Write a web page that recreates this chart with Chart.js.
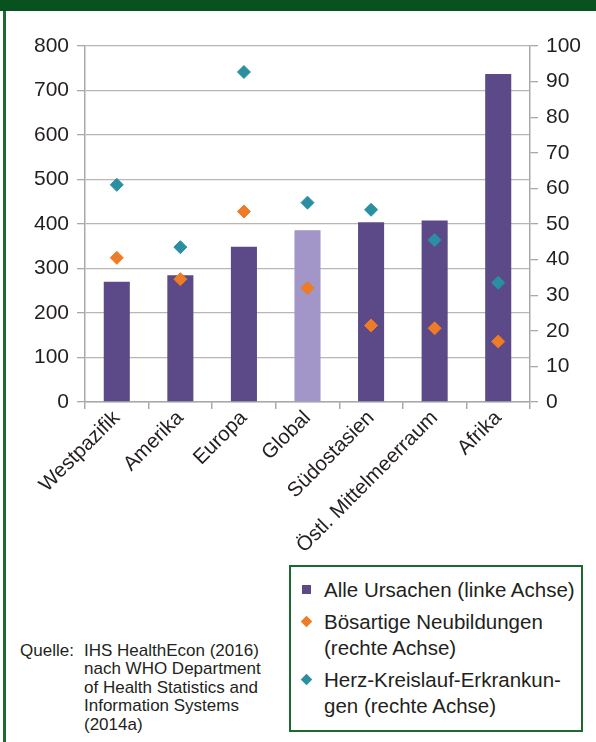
<!DOCTYPE html>
<html lang="de">
<head>
<meta charset="utf-8">
<title>Sterblichkeit nach Regionen</title>
<script src="https://cdn.jsdelivr.net/npm/chart.js@4.4.1/dist/chart.umd.min.js"></script>
<style>
    html, body {
        margin: 0;
        padding: 0;
        background: #ffffff;
        width: 596px;
        height: 742px;
        overflow: hidden;
        font-family: "Liberation Sans", Arial, sans-serif;
        color: #231f20;
    }
    .topbar {
        position: absolute;
        left: 0; top: 0;
        width: 596px; height: 11px;
        background: #08521f;
    }
    .leftbar {
        position: absolute;
        left: 3px; top: 11px;
        width: 3px; height: 731px;
        background: #1d6a31;
    }
    #chartBox {
        position: absolute;
        left: 6px; top: 11px;
        width: 590px; height: 550px;
    }
    .legend {
        position: absolute;
        left: 289px; top: 565px;
        width: 290px; height: 163px;
        border: 2px solid #1b6a30;
        padding: 0;
        font-size: 20.5px;
        line-height: 25.5px;
    }
    .legend-item {
        position: absolute;
        left: 33px;
    }
    .legend-item .mark {
        position: absolute;
        left: -22px;
        top: 8px;
        width: 9px;
        height: 9px;
    }
    .legend-item .mark.diamond {
        transform: rotate(45deg) scale(0.9);
    }
    .source {
        position: absolute;
        left: 20px; top: 642px;
        font-size: 17px;
        line-height: 18.4px;
        display: flex;
    }
    .source .head { width: 64px; }
</style>
</head>
<body>
<div class="topbar"></div>
<div class="leftbar"></div>
<div id="chartBox"><canvas id="mortalityChart" width="590" height="550"></canvas></div>
<div class="legend" id="legend"></div>
<div class="source">
    <div class="head">Quelle:</div>
    <div>IHS HealthEcon (2016)<br>nach WHO Department<br>of Health Statistics and<br>Information Systems<br>(2014a)</div>
</div>

<script>
// Daten
const categories = ['Westpazifik', 'Amerika', 'Europa', 'Global', 'Südostasien', 'Östl. Mittelmeerraum', 'Afrika'];
const alleUrsachen = [270, 285, 349, 386, 404, 408, 737];          // linke Achse
const boesartigeNeubildungen = [40.5, 34.5, 53.5, 32, 21.5, 20.7, 17]; // rechte Achse
const herzKreislauf = [61, 43.5, 92.7, 56, 54, 45.5, 33.5];          // rechte Achse
const leftAxis = { min: 0, max: 800, step: 100 };
const rightAxis = { min: 0, max: 100, step: 10 };
const seriesLabels = [
    ['Alle Ursachen (linke Achse)'],
    ['Bösartige Neubildungen', '(rechte Achse)'],
    ['Herz-Kreislauf-Erkrankun-', 'gen (rechte Achse)']
];

const purple = '#5b4a87';
const purpleLight = '#a295c7';
const orange = '#ee7b25';
const teal = '#2b8fa2';
const axisGrey = '#a9a9a9';
const gridGrey = '#bdb5b1';
const textColor = '#231f20';
const tickFont = { family: "'Liberation Sans', Arial, sans-serif", size: 21 };

document.addEventListener('DOMContentLoaded', function() {
    const ctx = document.getElementById('mortalityChart').getContext('2d');

    const chart = new Chart(ctx, {
        data: {
            labels: categories,
            datasets: [
                {
                    type: 'bar',
                    label: seriesLabels[0].join(' '),
                    data: alleUrsachen,
                    yAxisID: 'y',
                    backgroundColor: categories.map(c => c === 'Global' ? purpleLight : purple),
                    barPercentage: 0.41,
                    categoryPercentage: 1,
                    order: 3
                },
                {
                    type: 'line',
                    label: seriesLabels[1].join(' '),
                    data: boesartigeNeubildungen,
                    yAxisID: 'y1',
                    showLine: false,
                    pointStyle: 'rectRot',
                    pointRadius: 6.5,
                    pointBorderWidth: 1,
                    backgroundColor: orange,
                    borderColor: orange,
                    order: 1
                },
                {
                    type: 'line',
                    label: seriesLabels[2].join(' '),
                    data: herzKreislauf,
                    yAxisID: 'y1',
                    showLine: false,
                    pointStyle: 'rectRot',
                    pointRadius: 6.5,
                    pointBorderWidth: 1,
                    backgroundColor: teal,
                    borderColor: teal,
                    order: 2
                }
            ]
        },
        options: {
            responsive: false,
            animation: false,
            devicePixelRatio: 1,
            layout: { padding: { top: 35, left: 0, right: 0, bottom: 0 } },
            scales: {
                x: {
                    offset: true,
                    afterFit: function(scale) { scale.height = 159; },
                    grid: {
                        offset: true,
                        drawOnChartArea: false,
                        tickLength: 7,
                        color: axisGrey,
                        lineWidth: 1.5
                    },
                    border: { color: axisGrey, width: 1.5 },
                    ticks: {
                        autoSkip: false,
                        maxRotation: 45,
                        minRotation: 45,
                        padding: -3,
                        color: textColor,
                        font: { family: tickFont.family, size: 20.5 }
                    }
                },
                y: {
                    position: 'left',
                    min: leftAxis.min,
                    max: leftAxis.max,
                    afterFit: function(scale) { scale.width = 79; },
                    grid: {
                        color: gridGrey,
                        lineWidth: 1.3,
                        tickLength: 8,
                        tickColor: axisGrey
                    },
                    border: { color: axisGrey, width: 1.5 },
                    ticks: {
                        stepSize: leftAxis.step,
                        padding: 8,
                        color: textColor,
                        font: tickFont
                    }
                },
                y1: {
                    position: 'right',
                    min: rightAxis.min,
                    max: rightAxis.max,
                    afterFit: function(scale) { scale.width = 66; },
                    grid: {
                        drawOnChartArea: false,
                        tickLength: 8,
                        color: axisGrey,
                        lineWidth: 1.3
                    },
                    border: { color: axisGrey, width: 1.5 },
                    ticks: {
                        stepSize: rightAxis.step,
                        padding: 8,
                        color: textColor,
                        font: tickFont
                    }
                }
            },
            plugins: {
                legend: { display: false },
                tooltip: { enabled: false }
            }
        }
    });

    // HTML-Legende aus den Datensätzen
    const legend = document.getElementById('legend');
    const tops = [10, 42, 100];
    chart.data.datasets.forEach(function(ds, i) {
        const item = document.createElement('div');
        item.className = 'legend-item';
        item.style.top = tops[i] + 'px';
        const mark = document.createElement('span');
        mark.className = 'mark' + (i > 0 ? ' diamond' : '');
        mark.style.background = i === 0 ? purple : ds.backgroundColor;
        item.appendChild(mark);
        seriesLabels[i].forEach(function(line) {
            const d = document.createElement('div');
            d.textContent = line;
            item.appendChild(d);
        });
        legend.appendChild(item);
    });
});
</script>
</body>
</html>
